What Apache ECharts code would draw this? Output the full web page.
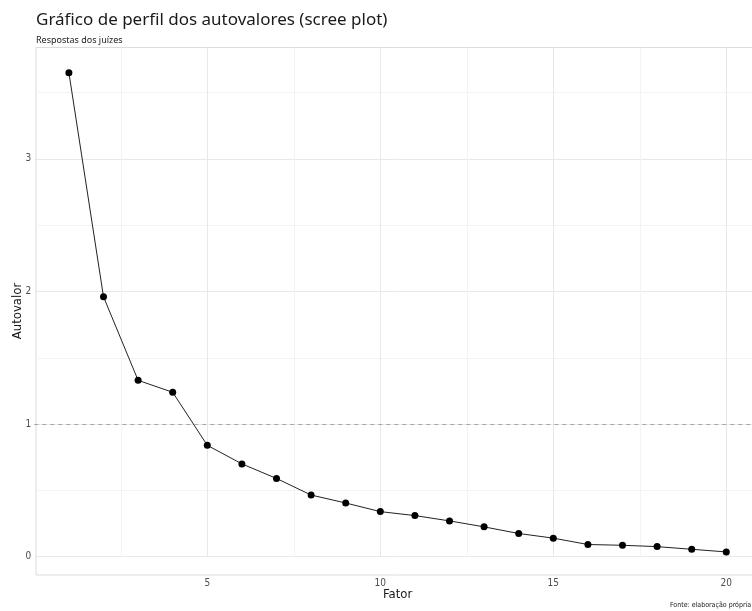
<!DOCTYPE html>
<html>
<head>
<meta charset="utf-8">
<script src="https://cdn.jsdelivr.net/npm/echarts@6/dist/echarts.min.js"></script>
<style>html,body{margin:0;padding:0;background:#fff}#c{width:752px;height:611px}</style>
</head>
<body>
<div id="c"></div>
<script>
const titleText = 'Gráfico de perfil dos autovalores (scree plot)';
const subtitleText = 'Respostas dos juízes';
const xTitle = 'Fator';
const yTitle = 'Autovalor';
const captionText = 'Fonte: elaboração própria';
const factors = [1,2,3,4,5,6,7,8,9,10,11,12,13,14,15,16,17,18,19,20];
const eigenvalues = [3.65,1.96,1.33,1.24,0.84,0.70,0.59,0.465,0.405,0.34,0.31,0.27,0.225,0.175,0.14,0.092,0.086,0.076,0.056,0.036];
const xTickLabels = [5,10,15,20];
const yTickLabels = [0,1,2,3];
const referenceLine = 1;

const axisFont = '"Liberation Sans Narrow","DejaVu Sans Condensed","Noto Sans",sans-serif';
const titleFont = '"Noto Sans",sans-serif';

const chart = echarts.init(document.getElementById('c'), null, {renderer:'canvas'});
const major = '#e8e8e8', minor = '#f3f3f3', none = 'rgba(0,0,0,0)';

chart.setOption({
  animation: false,
  backgroundColor: '#fff',
  title: [
    {text: titleText, left: 36, top: 12, padding: 0, textStyle:{fontFamily:titleFont, fontSize:17, fontWeight:'normal', color:'#1a1a1a'}},
    {text: subtitleText, left: 36, top: 36, padding: 0, textStyle:{fontFamily:titleFont, fontSize:9, fontWeight:'normal', color:'#1a1a1a'}}
  ],
  grid: [
    {left: 34.3, right: -8.9, top: 47.5, bottom: 54.3, containLabel:false, outerBoundsMode:'none'},
    {left: 36, right: -7, top: 47.5, bottom: 36, show:true, borderColor:'#dcdcdc', borderWidth:1, backgroundColor:'transparent', outerBoundsMode:'none'}
  ],
  xAxis: [
    {type:'value', gridIndex:0, min:0, max:21, interval:2.5,
     axisLine:{show:false}, axisTick:{show:false},
     axisLabel:{margin:22, fontSize:10, color:'#4d4d4d', fontFamily:axisFont,
       formatter: v => xTickLabels.indexOf(v) >= 0 ? String(v) : ''},
     splitLine:{show:true, lineStyle:{width:1, color:[none, minor, major, minor, major, minor, major, minor, major, none]}}},
    {type:'value', gridIndex:1, show:false, min:0, max:1}
  ],
  yAxis: [
    {type:'value', gridIndex:0, min:0, max:3.84, interval:0.5,
     axisLine:{show:false}, axisTick:{show:false},
     axisLabel:{margin:3, fontSize:10, color:'#4d4d4d', fontFamily:axisFont,
       formatter: v => yTickLabels.indexOf(v) >= 0 ? String(v) : ''},
     splitLine:{show:true, lineStyle:{width:1, color:[major, minor, major, minor, major, minor, major, minor, none]}}},
    {type:'value', gridIndex:1, show:false, min:0, max:1}
  ],
  graphic: [
    {type:'text', left: 383, top: 588, style:{text: xTitle, font: '13px ' + axisFont, fill:'#1a1a1a'}},
    {type:'text', x: 18, y: 311, rotation: Math.PI/2, style:{text: yTitle, font: '13px ' + axisFont, fill:'#1a1a1a', align:'center', verticalAlign:'middle'}},
    {type:'text', left: 670, top: 602, style:{text: captionText, font: '7px ' + axisFont, fill:'#1a1a1a'}}
  ],
  series: [{
    type:'line', xAxisIndex:0, yAxisIndex:0,
    data: factors.map((f,i)=>[f, eigenvalues[i]]),
    symbol:'circle', symbolSize:7,
    itemStyle:{color:'#000'},
    lineStyle:{color:'#222', width:1},
    markLine:{silent:true, symbol:'none', label:{show:false},
      lineStyle:{type:[4,4], color:'#a6a6a6', width:1},
      data:[{yAxis: referenceLine}]}
  }]
});
</script>
</body>
</html>
